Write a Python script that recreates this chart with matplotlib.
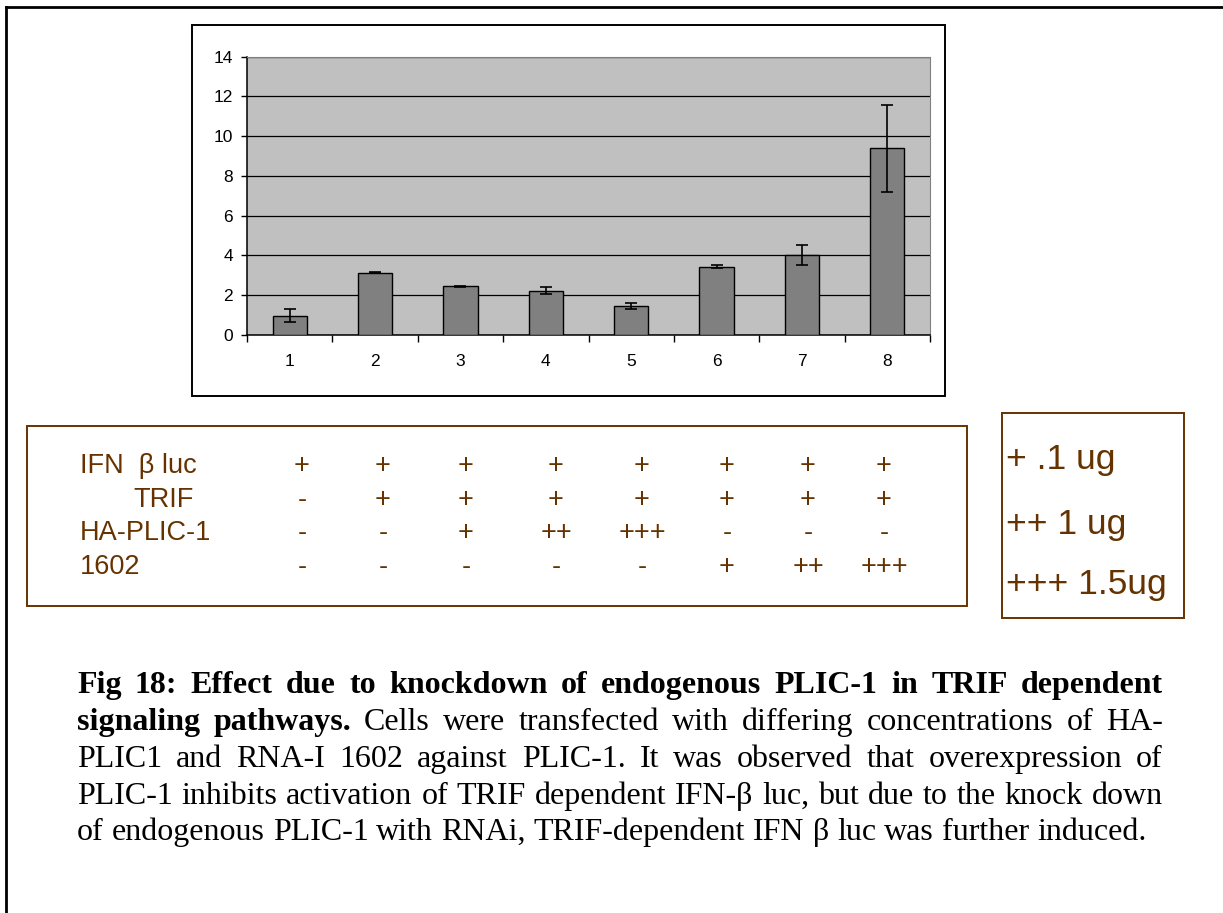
import matplotlib
matplotlib.use("Agg")
import matplotlib.pyplot as plt
from matplotlib.patches import Rectangle
from matplotlib.lines import Line2D

# bar chart values (fold induction) and error bars
lanes = [1, 2, 3, 4, 5, 6, 7, 8]
values = [0.98, 3.13, 2.45, 2.23, 1.47, 3.43, 4.02, 9.40]
errors = [0.34, 0.03, 0.04, 0.17, 0.15, 0.07, 0.50, 2.19]

# table under the chart
row_labels = ["IFN  β luc", "TRIF", "HA-PLIC-1", "1602"]
ifn_row = ["+", "+", "+", "+", "+", "+", "+", "+"]
trif_row = ["-", "+", "+", "+", "+", "+", "+", "+"]
plic_row = ["-", "-", "+", "++", "+++", "-", "-", "-"]
rnai_row = ["-", "-", "-", "-", "-", "+", "++", "+++"]
legend_lines = ["+ .1 ug", "++ 1 ug", "+++ 1.5ug"]

caption = [
    [("Fig 18: Effect due to knockdown of endogenous PLIC-1 in TRIF dependent", "bold")],
    [("signaling pathways.", "bold"),
     ("Cells were transfected with differing concentrations of HA-", "normal")],
    [("PLIC1 and RNA-I 1602 against PLIC-1. It was observed that overexpression of", "normal")],
    [("PLIC-1 inhibits activation of TRIF dependent IFN-β luc, but due to the knock down", "normal")],
    [("of endogenous PLIC-1 with RNAi, TRIF-dependent IFN β luc was further induced.", "normal")],
]

W, H = 1223, 913
BROWN = "#663300"
CAP_SIZE = 23
plt.rcParams["font.family"] = ["Liberation Sans", "DejaVu Sans"]

fig = plt.figure(figsize=(W / 100, H / 100), dpi=100)


def fx(x):
    return x / W


def fy(y):
    return 1 - y / H


def box(x0, y0, x1, y1, color, lw):
    fig.add_artist(Rectangle((fx(x0), fy(y1)), fx(x1 - x0), (y1 - y0) / H,
                             transform=fig.transFigure, fill=False,
                             edgecolor=color, linewidth=lw))


# page frame (top and left edge)
fig.add_artist(Line2D([fx(6), fx(W)], [fy(7), fy(7)], color="black", lw=2,
                      transform=fig.transFigure))
fig.add_artist(Line2D([fx(6), fx(6)], [fy(7), fy(H)], color="black", lw=2,
                      transform=fig.transFigure))

# chart frame
box(192, 25, 945, 396, "black", 1.4)

ax = fig.add_axes([fx(247), fy(335), fx(930 - 247), (335 - 56.7) / H])
ax.set_facecolor("#c0c0c0")
ax.bar(lanes, values, width=0.4, color="#808080", edgecolor="black", linewidth=1, zorder=3)
ax.errorbar(lanes, values, yerr=errors, fmt="none", ecolor="black", elinewidth=1.2,
            capsize=4.5, capthick=1.2, zorder=4)
ax.set_xlim(0.5, 8.5)
ax.set_ylim(0, 14)
ax.set_yticks(range(0, 15, 2))
ax.yaxis.grid(True, color="black", linewidth=0.9, zorder=1)
ax.set_axisbelow(True)
ax.set_xticks([i + 0.5 for i in range(0, 9)])
ax.set_xticklabels([])
ax.set_xticks(lanes, minor=True)
ax.set_xticklabels([str(i) for i in lanes], minor=True)
ax.tick_params(axis="x", which="major", direction="out", length=5, width=1)
ax.tick_params(axis="x", which="minor", length=0, pad=14, labelsize=12.5)
ax.tick_params(axis="y", direction="out", length=4, width=1, pad=6, labelsize=12.5)
for s in ["top", "right"]:
    ax.spines[s].set_color("#808080")
for s in ["left", "bottom"]:
    ax.spines[s].set_color("black")
    ax.spines[s].set_linewidth(1.1)

# table box
box(27, 426, 967, 606, BROWN, 1.4)
label_x = [80, 133, 80, 80]
row_base = [473, 507, 540, 574]
col_x = [302, 383, 466, 556, 642, 727, 808, 884]
for lab, lx, yb, row in zip(row_labels, label_x, row_base,
                            [ifn_row, trif_row, plic_row, rnai_row]):
    fig.text(fx(lx), fy(yb), lab, color=BROWN, fontsize=19.5, va="baseline", ha="left")
    for cx, sym in zip(col_x, row):
        fig.text(fx(cx), fy(yb), sym, color=BROWN, fontsize=19.5, va="baseline", ha="center")

# dose legend box
box(1002, 413, 1184, 618, BROWN, 1.4)
for txt, yb in zip(legend_lines, [469, 534, 594]):
    fig.text(fx(1006), fy(yb), txt, color=BROWN, fontsize=25.5, va="baseline", ha="left")

# caption, justified word by word
renderer = fig.canvas.get_renderer()
cap_x0, cap_x1 = 77, 1163
cap_base = [693, 730, 767, 804, 840]
for i, (parts, yb) in enumerate(zip(caption, cap_base)):
    words = []
    for text, weight in parts:
        for w in text.split():
            words.append((w, weight))
    arts = []
    widths = []
    for w, weight in words:
        t = fig.text(0, fy(yb), w, fontsize=CAP_SIZE, fontweight=weight,
                     family=["Liberation Serif", "DejaVu Serif"], va="baseline", ha="left")
        arts.append(t)
        widths.append(t.get_window_extent(renderer).width)
    if i < len(caption) - 1:
        gap = (cap_x1 - cap_x0 - sum(widths)) / (len(words) - 1)
    else:
        sp = fig.text(0, 0, "a a", fontsize=CAP_SIZE, family=["Liberation Serif"])
        sp2 = fig.text(0, 0, "aa", fontsize=CAP_SIZE, family=["Liberation Serif"])
        gap = sp.get_window_extent(renderer).width - sp2.get_window_extent(renderer).width
        sp.remove()
        sp2.remove()
    x = cap_x0
    for t, wdt in zip(arts, widths):
        t.set_x(fx(x))
        x += wdt + gap

fig.savefig("out.png", dpi=100)
